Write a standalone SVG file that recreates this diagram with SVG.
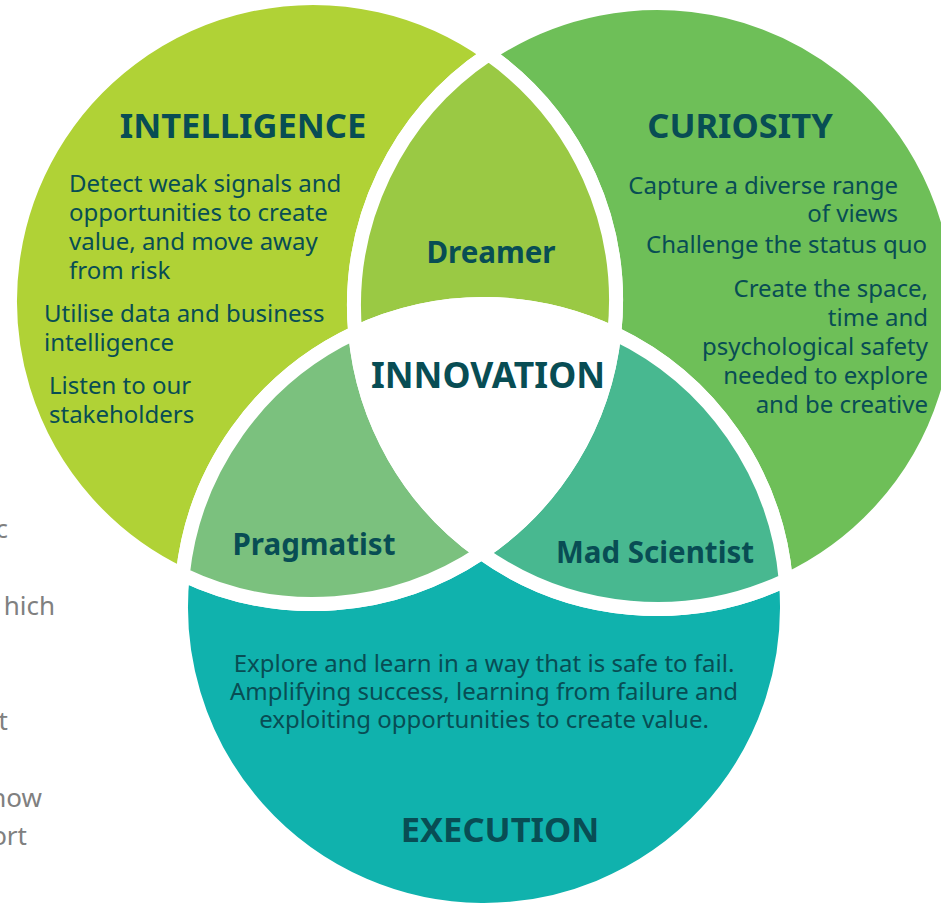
<svg xmlns="http://www.w3.org/2000/svg" width="941" height="905" viewBox="0 0 941 905">
  <style>
    .region { stroke: #ffffff; stroke-width: 14; stroke-linejoin: round; }
    .title { font-family: "Noto Sans", "Open Sans", sans-serif; font-weight: bold; font-size: 34.5px; fill: #084d54; text-anchor: middle; }
    .label { font-family: "Noto Sans", "Open Sans", sans-serif; font-weight: bold; font-size: 29.5px; fill: #084d54; text-anchor: middle; }
    .body { font-family: "Noto Sans", "Open Sans", sans-serif; font-size: 24px; fill: #084d54; }
    .right { text-anchor: end; }
    .mid { text-anchor: middle; }
    .side { font-family: "Noto Sans", "Open Sans", sans-serif; font-size: 26px; fill: #808080; text-anchor: end; }
  </style>

  <rect width="941" height="905" fill="#ffffff"/>

  <!-- page text running in behind the left edge -->
  <g id="page-text">
    <text class="side" x="8" y="538">c</text>
    <text class="side" x="55" y="615">hich</text>
    <text class="side" x="8" y="730">t</text>
    <text class="side" x="42" y="807">how</text>
    <text class="side" x="27" y="845">ort</text>
  </g>

  <!-- circles: L(313,301) R(657,306) B(484,607), r=303 -->
  <g id="intelligence">
    <path class="region" fill="#b0d236" d="M488.63,54.09 A303,303 0 1 0 182.74,574.57 A303,303 0 0 1 355.18,332.74 A303,303 0 0 1 488.63,54.09 Z"/>
    <text class="title" x="243" y="138">INTELLIGENCE</text>
    <text class="body" x="69" y="192">Detect weak signals and</text>
    <text class="body" x="69" y="221">opportunities to create</text>
    <text class="body" x="69" y="250">value, and move away</text>
    <text class="body" x="69" y="279">from risk</text>
    <text class="body" x="44" y="322">Utilise data and business</text>
    <text class="body" x="44" y="351">intelligence</text>
    <text class="body" x="49" y="394">Listen to our</text>
    <text class="body" x="49" y="423">stakeholders</text>
  </g>

  <g id="curiosity">
    <path class="region" fill="#6ebf58" d="M488.63,54.09 A303,303 0 1 1 785.82,580.26 A303,303 0 0 0 614.26,333.43 A303,303 0 0 0 488.63,54.09 Z"/>
    <text class="title" x="740" y="138">CURIOSITY</text>
    <text class="body right" x="898" y="194">Capture a diverse range</text>
    <text class="body right" x="898" y="222">of views</text>
    <text class="body right" x="927" y="253">Challenge the status quo</text>
    <text class="body right" x="928" y="297">Create the space,</text>
    <text class="body right" x="928" y="326">time and</text>
    <text class="body right" x="928" y="355">psychological safety</text>
    <text class="body right" x="928" y="384">needed to explore</text>
    <text class="body right" x="928" y="413">and be creative</text>
  </g>

  <g id="execution">
    <path class="region" fill="#10b2ad" d="M182.74,574.57 A303,303 0 1 0 785.82,580.26 A303,303 0 0 1 481.37,552.91 A303,303 0 0 1 182.74,574.57 Z"/>
    <text class="body mid" x="484" y="672">Explore and learn in a way that is safe to fail.</text>
    <text class="body mid" x="484" y="700">Amplifying success, learning from failure and</text>
    <text class="body mid" x="484" y="728">exploiting opportunities to create value.</text>
    <text class="title" x="500" y="842">EXECUTION</text>
  </g>

  <g id="dreamer">
    <path class="region" fill="#9ac944" d="M488.63,54.09 A303,303 0 0 1 614.26,333.43 A303,303 0 0 0 355.18,332.74 A303,303 0 0 1 488.63,54.09 Z"/>
    <text class="label" x="491" y="263">Dreamer</text>
  </g>

  <g id="pragmatist">
    <path class="region" fill="#7bc17e" d="M182.74,574.57 A303,303 0 0 1 355.18,332.74 A303,303 0 0 0 481.37,552.91 A303,303 0 0 1 182.74,574.57 Z"/>
    <text class="label" x="314" y="555">Pragmatist</text>
  </g>

  <g id="mad-scientist">
    <path class="region" fill="#48b890" d="M785.82,580.26 A303,303 0 0 0 614.26,333.43 A303,303 0 0 1 481.37,552.91 A303,303 0 0 0 785.82,580.26 Z"/>
    <text class="label" x="655" y="563">Mad Scientist</text>
  </g>

  <g id="innovation">
    <path class="region" fill="#ffffff" d="M355.18,332.74 A303,303 0 0 1 614.26,333.43 A303,303 0 0 1 481.37,552.91 A303,303 0 0 1 355.18,332.74 Z"/>
    <text class="title" x="488" y="388" style="font-size:35.5px">INNOVATION</text>
  </g>
</svg>
